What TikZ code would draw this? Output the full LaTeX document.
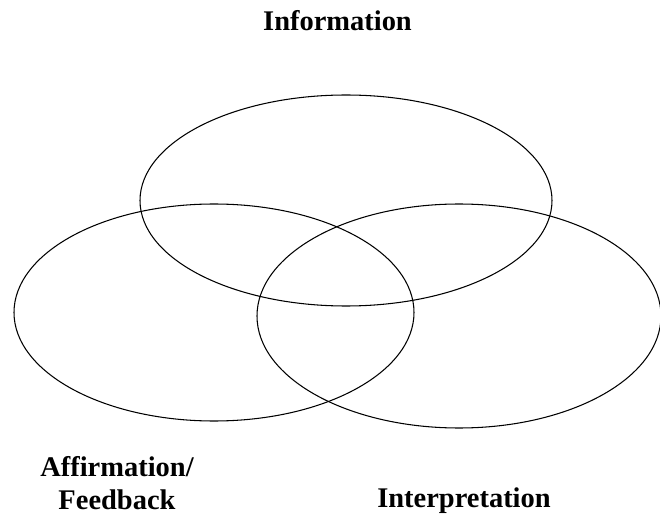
\documentclass[tikz,border=0pt]{standalone}
\usepackage{fontspec}
\setmainfont{Liberation Serif}
\usetikzlibrary{positioning}

\begin{document}
\begin{tikzpicture}[x=0.02cm,y=-0.02cm,line width=0.6pt,
    every node/.style={font=\bfseries\fontsize{16.2}{18.8}\selectfont, inner sep=0pt}]
          \useasboundingbox (0,0) rectangle (660,517);
          \coordinate (c1) at (346,200.5);
          \coordinate (c2) at (214,312.5);
          \coordinate (c3) at (459,316);
          \draw (c1) ellipse [x radius=206, y radius=105.5];
          \draw (c2) ellipse [x radius=200, y radius=108.5];
          \draw (c3) ellipse [x radius=202, y radius=112];
        \node[anchor=base] (info) at (337.5,31) {Information};
        \node[anchor=north, align=center] (affirm) at (117,456) {Affirmation/\\Feedback};
        \node[anchor=base] (interp) at (464,507) {Interpretation};
\end{tikzpicture}
\end{document}
